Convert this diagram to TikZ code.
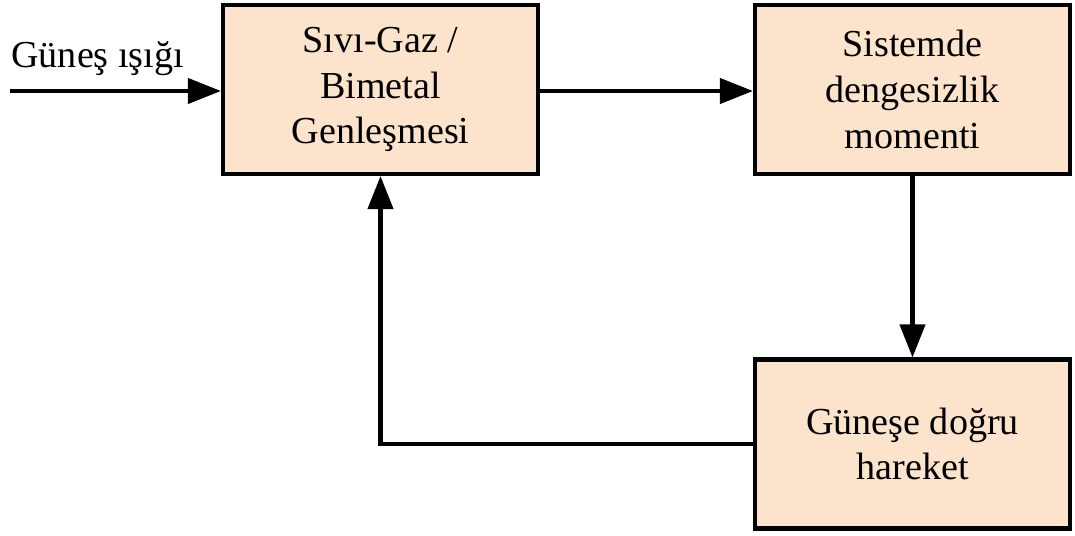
\documentclass[tikz,border=0pt]{standalone}
\usepackage{fontspec}
\setmainfont{Liberation Serif}
\usepackage{tikz}
\usetikzlibrary{arrows.meta,positioning}
\usepackage{xcolor}
\definecolor{blockfill}{RGB}{252,228,204}

\begin{document}
\begin{tikzpicture}[
    every node/.style={font=\fontsize{21.7}{26}\selectfont},
    block/.style={draw,line width=2.3pt,fill=blockfill,minimum width=6.3cm,
                  minimum height=3.38cm,inner sep=0pt,align=center},
    flow/.style={line width=2.3pt,-{Triangle[length=0.66cm,width=0.5cm]}}
  ]
    \useasboundingbox (0,0) rectangle (21.5,-10.72);

    % ── Blocks ───────────────────────────────────────────────────────────────
    \node[block] (expand) at (7.61,-1.79) {Sıvı-Gaz /\\Bimetal\\Genleşmesi};
    \node[block] (moment) at (18.25,-1.79) {Sistemde\\dengesizlik\\momenti};
    \node[block] (motion) at (18.25,-8.88) {Güneşe doğru\\hareket};

    % ── Input ────────────────────────────────────────────────────────────────
    \coordinate (sun) at (0.2,-1.82);
    \node[anchor=base west,inner sep=0pt] (sunlbl) at (0.22,-1.36) {Güneş ışığı};
    \draw[flow] (sun) -- (expand.west |- sun);

    % ── Forward path and feedback ───────────────────────────────────────────
    \draw[flow] (expand.east |- sun) -- (moment.west |- sun);
    \draw[flow] (moment.south) -- (motion.north);
    \draw[flow] (motion.west) -| (expand.south);
\end{tikzpicture}
\end{document}
